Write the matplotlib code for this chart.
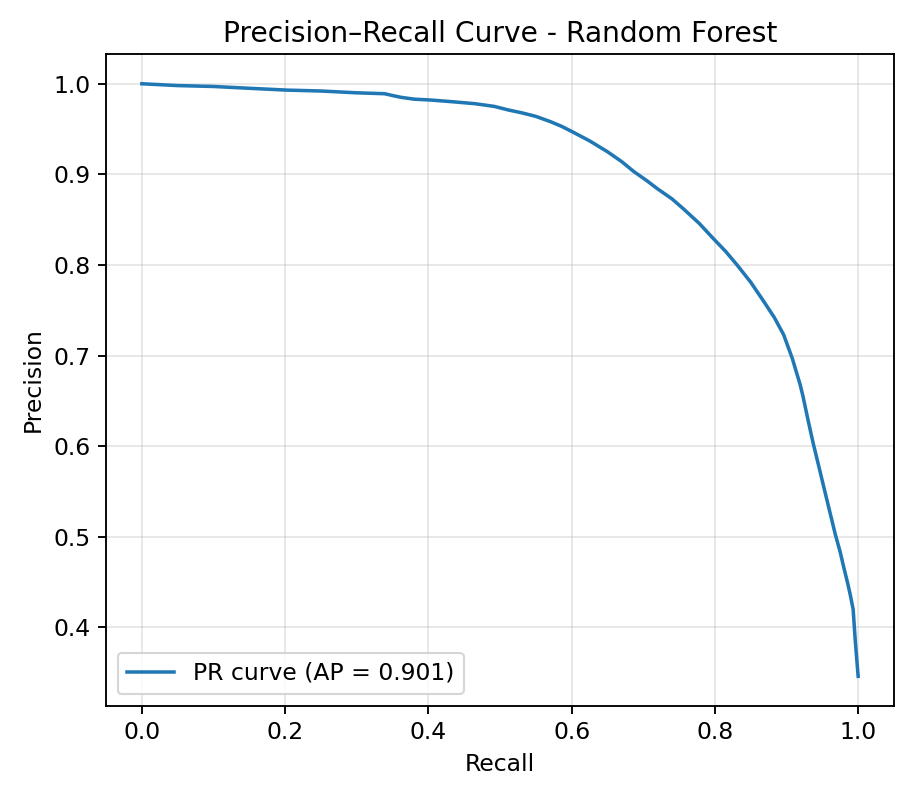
import matplotlib
matplotlib.use("Agg")
import matplotlib.pyplot as plt

recall = [0.0, 0.05, 0.10, 0.15, 0.202, 0.25, 0.30, 0.339, 0.350, 0.362, 0.380,
          0.404, 0.436, 0.465, 0.492, 0.512, 0.530, 0.550, 0.571, 0.586, 0.601,
          0.625, 0.650, 0.670, 0.687, 0.705, 0.720, 0.740, 0.756, 0.778, 0.798,
          0.815, 0.831, 0.850, 0.868, 0.883, 0.896, 0.908, 0.919, 0.923, 0.930,
          0.937, 0.945, 0.952, 0.960, 0.968, 0.975, 0.980, 0.985, 0.989, 0.993,
          0.996, 1.0]
precision = [1.0, 0.998, 0.997, 0.995, 0.993, 0.992, 0.990, 0.989, 0.987, 0.985, 0.983,
             0.982, 0.980, 0.978, 0.975, 0.971, 0.968, 0.964, 0.958, 0.953, 0.947,
             0.937, 0.925, 0.914, 0.903, 0.893, 0.884, 0.873, 0.862, 0.846, 0.829,
             0.815, 0.800, 0.781, 0.760, 0.742, 0.723, 0.697, 0.668, 0.655, 0.629,
             0.604, 0.578, 0.555, 0.529, 0.503, 0.483, 0.466, 0.450, 0.436, 0.420,
             0.385, 0.346]
ap = 0.901

s = 1.125
plt.rcParams.update({
    "font.size": 10 * s,
    "axes.titlesize": 12 * s,
    "axes.labelsize": 10 * s,
    "xtick.labelsize": 10 * s,
    "ytick.labelsize": 10 * s,
    "legend.fontsize": 10 * s,
    "axes.linewidth": 0.8 * s,
    "xtick.major.width": 0.8 * s,
    "ytick.major.width": 0.8 * s,
    "xtick.major.size": 3.5 * s,
    "ytick.major.size": 3.5 * s,
    "grid.linewidth": 0.8 * s,
})

fig = plt.figure(figsize=(911/150, 796/150), dpi=150)
ax = fig.add_axes([0.1164, 0.1131, 0.8649, 0.8189])
ax.plot(recall, precision, color="#1f77b4", linewidth=1.5 * s,
        label=f"PR curve (AP = {ap:.3f})")
ax.set_xlabel("Recall")
ax.set_ylabel("Precision")
ax.set_title("Precision–Recall Curve - Random Forest")
ax.grid(True, alpha=0.3)
ax.legend(loc="lower left")
fig.savefig("out.png", dpi=150)
